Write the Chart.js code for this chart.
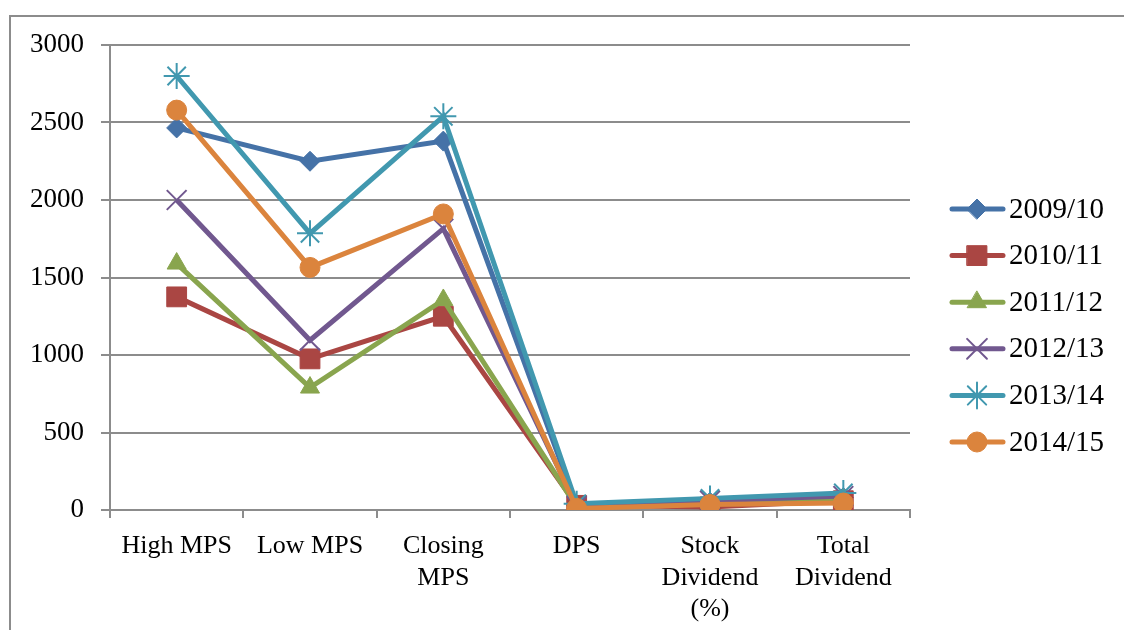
<!DOCTYPE html>
<html>
<head>
<meta charset="utf-8">
<script src="https://cdn.jsdelivr.net/npm/chart.js@4"></script>
<style>
  html, body { margin: 0; padding: 0; background: #fff; overflow: hidden; }
  #wrap { position: relative; width: 1124px; height: 630px; }
  #frame { position: absolute; left: 9px; top: 15px; width: 1200px; height: 700px; border: 2px solid #8c8c8c; box-sizing: border-box; }
  canvas { position: absolute; left: 0; top: 0; }
</style>
</head>
<body>
<div id="wrap">
  <div id="frame"></div>
  <canvas id="chart" width="1124" height="630"></canvas>
</div>
<script>
const categories = [['High MPS'], ['Low MPS'], ['Closing', 'MPS'], ['DPS'], ['Stock', 'Dividend', '(%)'], ['Total', 'Dividend']];
const yTicks = [0, 500, 1000, 1500, 2000, 2500, 3000];

const s2009 = [2465, 2250, 2380, 30, 50, 80];
const s2010 = [1375, 975, 1250, 30, 20, 60];
const s2011 = [1590, 790, 1355, 20, 40, 70];
const s2012 = [2000, 1095, 1815, 25, 60, 90];
const s2013 = [2800, 1785, 2540, 40, 75, 110];
const s2014 = [2580, 1565, 1910, 10, 35, 45];

const FONT = "'Liberation Serif', 'Times New Roman', serif";

function series(label, data, color, style, radius, order) {
  return {
    label: label, data: data, order: order,
    borderColor: color, backgroundColor: color,
    pointBackgroundColor: color, pointBorderColor: color,
    pointStyle: style, pointRadius: radius, pointHoverRadius: radius,
    pointBorderWidth: style === 'crossRot' || style === 'star' ? 2 : 1,
    borderWidth: 5, tension: 0, fill: false
  };
}

// later series drawn on top, like the original
const datasets = [
  series('2009/10', s2009, '#4572A7', 'rectRot', 10, 6),
  series('2010/11', s2010, '#AA4643', 'rect', 14, 5),
  series('2011/12', s2011, '#89A54E', 'triangle', 11, 4),
  series('2012/13', s2012, '#71588F', 'crossRot', 14, 3),
  series('2013/14', s2013, '#4198AF', 'star', 13, 2),
  series('2014/15', s2014, '#DB843D', 'circle', 10, 1)
];

// legend drawn at right: line sample with marker, then label
const legendPlugin = {
  id: 'sideLegend',
  afterDraw(chart) {
    const ctx = chart.ctx;
    ctx.save();
    chart.data.datasets.forEach((ds, i) => {
      const y = 209 + i * 46.6;
      ctx.strokeStyle = ds.borderColor;
      ctx.lineWidth = 5;
      ctx.lineCap = 'round';
      ctx.beginPath();
      ctx.moveTo(952, y);
      ctx.lineTo(1003, y);
      ctx.stroke();
      ctx.fillStyle = ds.pointBackgroundColor;
      ctx.strokeStyle = ds.pointBorderColor;
      ctx.lineWidth = ds.pointBorderWidth;
      Chart.helpers.drawPoint(ctx, { pointStyle: ds.pointStyle, radius: ds.pointRadius, rotation: 0, borderWidth: ds.pointBorderWidth }, 977, y);
      ctx.fillStyle = '#000';
      ctx.font = '29px ' + FONT;
      ctx.textAlign = 'left';
      ctx.textBaseline = 'middle';
      ctx.fillText(ds.label, 1009, y + 1);
    });
    ctx.restore();
  }
};

new Chart(document.getElementById('chart'), {
  type: 'line',
  data: { labels: categories, datasets: datasets },
  plugins: [legendPlugin],
  options: {
    responsive: false,
    animation: false,
    layout: { padding: { top: 45, right: 214, bottom: 0, left: 0 } },
    plugins: { legend: { display: false }, tooltip: { enabled: false } },
    scales: {
      x: {
        offset: true,
        grid: { offset: true, drawOnChartArea: false, drawTicks: true, tickLength: 8, color: '#8c8c8c', lineWidth: 2 },
        border: { color: '#8c8c8c', width: 2 },
        ticks: { color: '#000', font: { family: FONT, size: 26, lineHeight: 1.2 }, padding: 13, maxRotation: 0, autoSkip: false },
        afterFit(scale) { scale.height = 120; }
      },
      y: {
        min: 0, max: 3000,
        afterBuildTicks(scale) { scale.ticks = yTicks.map(v => ({ value: v })); },
        grid: { color: '#8c8c8c', lineWidth: 2, tickLength: 9 },
        border: { color: '#8c8c8c', width: 2 },
        ticks: { color: '#000', font: { family: FONT, size: 27 }, padding: 17, callback: v => String(v) },
        afterFit(scale) { scale.width = 110; }
      }
    }
  }
});
</script>
</body>
</html>
